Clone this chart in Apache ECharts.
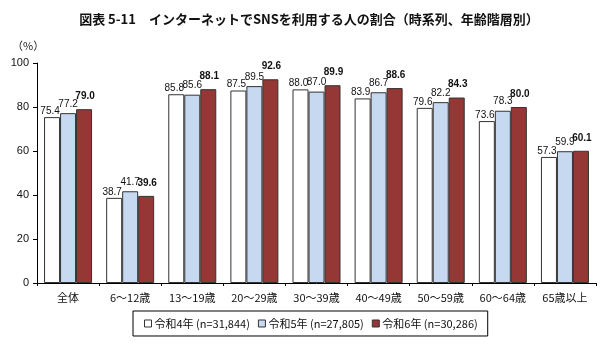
<!DOCTYPE html>
<html><head><meta charset="utf-8">
<script src="https://cdn.jsdelivr.net/npm/echarts@6/dist/echarts.min.js"></script>
<style>html,body{margin:0;padding:0;background:#fff}#c{width:608px;height:346px}</style>
</head><body><div id="c"></div>
<script>
const categories = ['全体','6～12歳','13～19歳','20～29歳','30～39歳','40～49歳','50～59歳','60～64歳','65歳以上'];
const seriesNames = ['令和4年 (n=31,844)','令和5年 (n=27,805)','令和6年 (n=30,286)'];
const r4 = [75.4,38.7,85.8,87.5,88.0,83.9,79.6,73.6,57.3];
const r5 = [77.2,41.7,85.6,89.5,87.0,86.7,82.2,78.3,59.9];
const r6 = [79.0,39.6,88.1,92.6,89.9,88.6,84.3,80.0,60.1];
const yTicks = [0,20,40,60,80,100];

const NUMFONT = '"Liberation Sans",sans-serif';
const JP = '"Noto Sans CJK JP",sans-serif';
const colors = ['#ffffff','#c6d9f1','#953735'];
const labelDist = [1,4,8];
const labelOffset = [[-2,0],[0,0],[1,0]];
const data = [r4,r5,r6];
const chart = echarts.init(document.getElementById('c'));
chart.setOption({
  animation:false,
  textStyle:{fontFamily:JP},
  title:{text:'図表 5-11　インターネットでSNSを利用する人の割合（時系列、年齢階層別）',left:304,textAlign:'center',top:8,
    textStyle:{fontSize:13,fontWeight:'bold',color:'#111',fontFamily:JP}},
  graphic:[{type:'text',left:12,top:40,style:{text:'（%）',fontSize:11,fill:'#222',fontFamily:JP}}],
  legend:{data:seriesNames,left:133,top:311,borderColor:'#000',borderWidth:1,padding:[7,10,7,11],
    itemWidth:7,itemHeight:7,itemGap:8,icon:'rect',
    textStyle:{fontSize:11,color:'#111',fontFamily:JP,padding:[0,0,0,-2]},
    itemStyle:{borderColor:'#333',borderWidth:1}},
  grid:{left:37,right:12,top:63,bottom:63},
  xAxis:{type:'category',data:categories,
    axisLine:{lineStyle:{color:'#000',width:1}},
    axisTick:{show:true,length:3,lineStyle:{color:'#000'}},
    axisLabel:{fontSize:11,color:'#111',margin:9,fontFamily:JP}},
  yAxis:{type:'value',min:0,max:100,interval:20,
    axisLine:{show:true,lineStyle:{color:'#000',width:1}},
    axisTick:{show:true,length:4,lineStyle:{color:'#000'}},
    splitLine:{show:false},
    axisLabel:{fontSize:11,color:'#111',margin:8,fontFamily:NUMFONT,formatter:v=>yTicks.includes(v)?String(v):''}},
  series:data.map((d,i)=>({
    name:seriesNames[i],type:'bar',data:d,barWidth:16,barGap:'0%',
    itemStyle:{color:colors[i],borderColor:'#333',borderWidth:1},
    label:{show:true,position:'top',distance:labelDist[i],offset:labelOffset[i],fontSize:10,color:'#111',fontFamily:NUMFONT,
      fontWeight:i===2?'bold':'normal',
      formatter:p=>p.value.toFixed(1)}
  }))
});
</script></body></html>
